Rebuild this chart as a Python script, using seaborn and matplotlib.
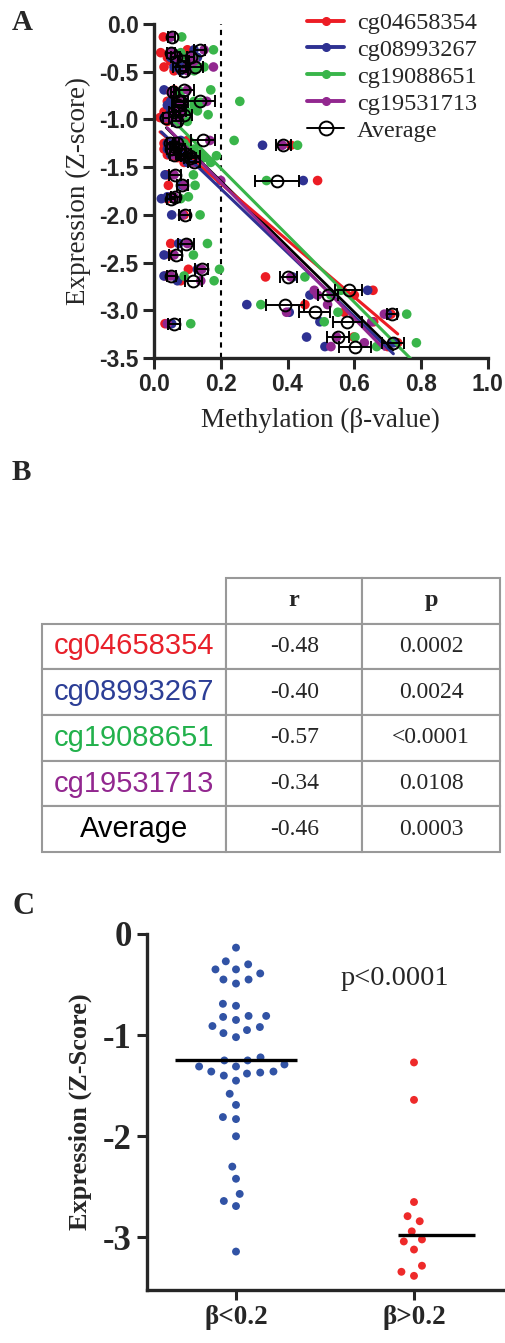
import numpy as np
import pandas as pd
import matplotlib
matplotlib.use("Agg")
import matplotlib.pyplot as plt
import seaborn as sns
from matplotlib.lines import Line2D

# ---------------- data ----------------
probes = ["cg04658354", "cg08993267", "cg19088651", "cg19531713"]

expression = [-0.135, -0.27, -0.30, -0.35, -0.35, -0.39, -0.45, -0.45, -0.49,
              -0.69, -0.71, -0.81, -0.81, -0.82, -0.85, -0.91, -0.92, -0.95, -0.98, -1.02,
              -1.22, -1.25, -1.25, -1.29, -1.31, -1.31, -1.36, -1.36, -1.37, -1.38, -1.40, -1.45,
              -1.58, -1.69, -1.81, -1.83, -2.00, -2.30, -2.42, -2.57, -2.64, -2.69, -3.14,
              -1.27, -1.64, -2.65, -2.79, -2.84, -2.94, -3.02, -3.04, -3.12, -3.28, -3.34, -3.38]

beta_cg04658354 = [.028, .10, .02, .04, .08, .05, .03, .07, .06,
                   .06, .05, .07, .04, .05, .05, .04, .03, .05, .018, .04,
                   .10, .03, .05, .04, .06, .03, .05, .08, .04, .06, .07, .09,
                   .04, .043, .05, .04, .09, .05, .05, .103, .035, .08, .033,
                   .41, .49, .334, .656, .60, .452, .57, .71, .658, .598, .73, .70]
beta_cg08993267 = [.05, .12, .05, .05, .13, .07, .06, .09, .08,
                   .03, .05, .06, .05, .06, .04, .06, .05, .07, .03, .06,
                   .08, .04, .06, .05, .05, .04, .07, .06, .05, .08, .09, .10,
                   .033, .085, .04, .022, .053, .074, .03, .13, .03, .07, .053,
                   .325, .447, .415, .64, .467, .278, .405, .70, .497, .457, .717, .512]
beta_cg19088651 = [.083, .178, .08, .10, .12, .11, .13, .15, .12,
                   .17, .08, .257, .12, .14, .12, .13, .10, .162, .06, .10,
                   .24, .07, .09, .10, .12, .08, .11, .14, .09, .187, .15, .17,
                   .118, .123, .103, .08, .138, .16, .118, .196, .09, .18, .11,
                   .43, .337, .452, .56, .53, .32, .551, .757, .51, .602, .786, .667]
beta_cg19531713 = [.05, .15, .05, .07, .11, .12, .10, .178, .10,
                   .10, .05, .158, .09, .07, .08, .07, .06, .08, .04, .07,
                   .167, .05, .07, .06, .08, .05, .09, .10, .06, .11, .12, .12,
                   .06, .09, .06, .06, .085, .10, .06, .143, .05, .14, .04,
                   .385, .20, .41, .48, .49, .52, .397, .69, .652, .547, .63, .53]

table_labels = ["cg04658354", "cg08993267", "cg19088651", "cg19531713", "Average"]
table_r = ["-0.48", "-0.40", "-0.57", "-0.34", "-0.46"]
table_p = ["0.0002", "0.0024", "<0.0001", "0.0108", "0.0003"]

group_labels = ["β<0.2", "β>0.2"]
beta_cutoff = 0.2
p_text = "p<0.0001"

# ---------------- styling ----------------
probe_colors = ["#ec1c24", "#2e3192", "#39b54a", "#92278f"]
table_colors = ["#e8202a", "#2c3e96", "#22b14c", "#92278f", "black"]
group_colors = ["#3153a5", "#ee2a2a"]

sns.set_style("ticks")
plt.rcParams["font.family"] = ["Liberation Serif", "DejaVu Serif"]
plt.rcParams["axes.unicode_minus"] = False

SERIF = ["Liberation Serif", "DejaVu Serif"]
SANS = ["Liberation Sans", "DejaVu Sans"]

fig = plt.figure(figsize=(5.05, 13.43), dpi=100)

# ---------------- long-form frame ----------------
n = len(expression)
wide = pd.DataFrame({"sample": np.arange(n), "expr": expression,
                     probes[0]: beta_cg04658354, probes[1]: beta_cg08993267,
                     probes[2]: beta_cg19088651, probes[3]: beta_cg19531713})
long = wide.melt(id_vars=["sample", "expr"], value_vars=probes,
                 var_name="probe", value_name="beta")
avg = long.groupby("sample").agg(expr=("expr", "first"), beta=("beta", "mean"),
                                 sem=("beta", "sem")).reset_index()

# ---------------- Panel A ----------------
axA = fig.add_axes([0.305, 0.7334, 0.661, 0.2487])
sns.scatterplot(data=long, x="beta", y="expr", hue="probe", hue_order=probes,
                palette=probe_colors, s=48, linewidth=0, legend=False, ax=axA, zorder=2)
axA.errorbar(avg["beta"], avg["expr"], xerr=avg["sem"], fmt="o", mfc="none",
             mec="black", ms=8.5, mew=1.4, ecolor="black", elinewidth=1.4,
             capsize=4.5, capthick=1.4, zorder=4)
sns.regplot(data=avg, x="beta", y="expr", scatter=False, ci=None, truncate=True,
            color="black", line_kws={"lw": 2.0, "zorder": 2.9}, ax=axA)
for pr, col in zip(probes, probe_colors):
    sns.regplot(data=long[long["probe"] == pr], x="beta", y="expr", scatter=False,
                ci=None, truncate=True, color=col, line_kws={"lw": 2.2, "zorder": 3}, ax=axA)
axA.axvline(beta_cutoff, color="black", ls=(0, (2.5, 2.5)), lw=1.5, zorder=1)
axA.set_xlim(0, 1.0)
axA.set_ylim(-3.5, 0)
axA.set_xticks(np.arange(0, 1.01, 0.2))
axA.set_yticks(np.arange(0, -3.51, -0.5))
axA.xaxis.set_major_formatter(matplotlib.ticker.FormatStrFormatter("%.1f"))
axA.yaxis.set_major_formatter(matplotlib.ticker.FormatStrFormatter("%.1f"))
for lab in axA.get_xticklabels() + axA.get_yticklabels():
    lab.set_fontfamily(SANS); lab.set_fontweight("bold"); lab.set_fontsize(16.5)
axA.tick_params(direction="out", length=8, width=2.2, pad=3)
for s in ["left", "bottom"]:
    axA.spines[s].set_linewidth(2.4)
sns.despine(ax=axA)
axA.set_xlabel("Methylation (β-value)", fontsize=19.5, fontfamily=SERIF, labelpad=8)
axA.set_ylabel("Expression (Z-score)", fontsize=19.5, fontfamily=SERIF, labelpad=6)

handles = [Line2D([], [], color=c, lw=2.8, marker="o", ms=5.5) for c in probe_colors]
handles.append(Line2D([], [], color="black", lw=1.4, marker="o", ms=10, mfc="none", mew=1.4))
axA.legend(handles, probes + ["Average"], loc="upper left", bbox_to_anchor=(0.43, 1.065),
           frameon=False, prop={"family": SERIF, "size": 17.5}, handlelength=1.5,
           handletextpad=0.55, labelspacing=0.2, borderaxespad=0)

fig.text(12 / 505, 1 - 22 / 1343, "A", fontsize=21, fontweight="bold", fontfamily=SERIF, va="center")

# ---------------- Panel B (table) ----------------
fig.text(12 / 505, 1 - 472 / 1343, "B", fontsize=21, fontweight="bold", fontfamily=SERIF, va="center")
axT = fig.add_axes([42 / 505, 1 - 852 / 1343, 458 / 505, 274 / 1343])
axT.axis("off")
cell_text = [["", "r", "p"]] + [[a, b, c] for a, b, c in zip(table_labels, table_r, table_p)]
tbl = axT.table(cellText=cell_text, cellLoc="center", colWidths=[0.402, 0.297, 0.301],
                bbox=[0, 0, 1, 1])
tbl.auto_set_font_size(False)
for (row, col), cell in tbl.get_celld().items():
    cell.set_edgecolor("#999999")
    cell.set_linewidth(1.5)
    t = cell.get_text()
    if row == 0:
        if col == 0:
            cell.visible_edges = ""
        t.set_fontfamily(SERIF); t.set_fontweight("bold"); t.set_fontsize(17.5)
    elif col == 0:
        t.set_fontfamily(SANS); t.set_fontsize(21); t.set_color(table_colors[row - 1])
    else:
        t.set_fontfamily(SERIF); t.set_fontsize(17)

# ---------------- Panel C ----------------
fig.text(12 / 505, 1 - 906 / 1343, "C", fontsize=22, fontweight="bold", fontfamily=SERIF, va="center")
avg["group"] = np.where(avg["beta"] < beta_cutoff, group_labels[0], group_labels[1])
axC = fig.add_axes([147 / 505, 1 - 1290 / 1343, 356 / 505, 356 / 1343])
sns.swarmplot(data=avg, x="group", y="expr", order=group_labels, hue="group",
              hue_order=group_labels, palette=group_colors, size=7.4, linewidth=1.7,
              edgecolor="white", legend=False, ax=axC, zorder=2)
median_extent = [(-0.34, 0.34), (-0.09, 0.34)]
for i, g in enumerate(group_labels):
    med = avg.loc[avg["group"] == g, "expr"].median()
    axC.hlines(med, i + median_extent[i][0], i + median_extent[i][1], color="black",
               lw=2.4, zorder=3)
axC.set_xlim(-0.5, 1.5)
axC.set_ylim(-3.52, 0)
axC.set_yticks([0, -1, -2, -3])
axC.set_yticklabels(["0", "-1", "-2", "-3"])
for lab in axC.get_xticklabels() + axC.get_yticklabels():
    lab.set_fontfamily(SERIF); lab.set_fontweight("bold")
for lab in axC.get_yticklabels():
    lab.set_fontsize(25)
for lab in axC.get_xticklabels():
    lab.set_fontsize(19.5)
axC.tick_params(direction="out", length=7, width=2.2, pad=4)
for s in ["left", "bottom"]:
    axC.spines[s].set_linewidth(2.4)
sns.despine(ax=axC)
axC.set_xlabel("")
axC.set_ylabel("Expression (Z-Score)", fontsize=19, fontweight="bold", fontfamily=SERIF, labelpad=8)
axC.text(0.89, -0.44, p_text, fontsize=20.5, fontfamily=SERIF, ha="center", va="center")

fig.savefig("out.png", dpi=100)
